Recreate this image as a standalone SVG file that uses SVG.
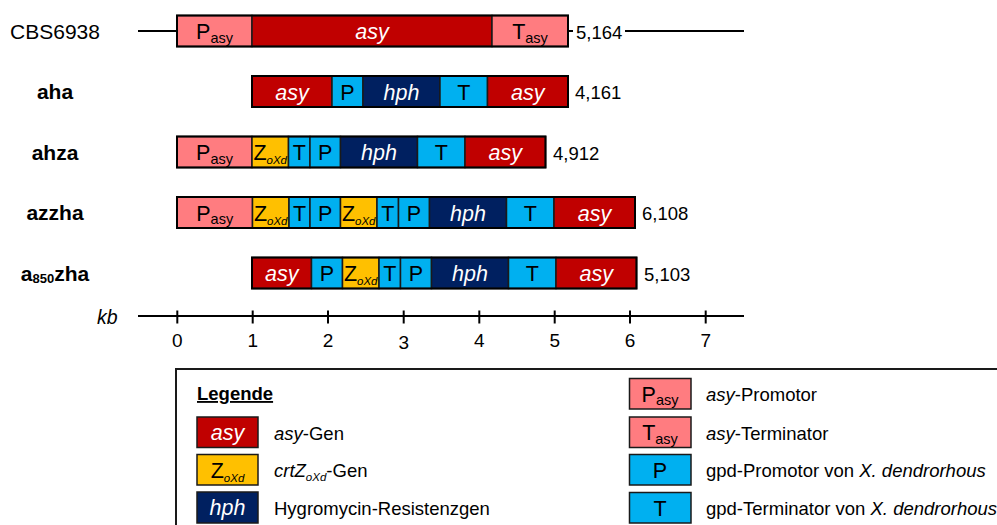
<svg xmlns="http://www.w3.org/2000/svg" width="997" height="525" viewBox="0 0 997 525">
  <style>
    text { font-family: "Liberation Sans", Arial, sans-serif; fill: #000; }
    .seg { stroke: #1a1a1a; stroke-width: 1.5; }
    .frame { fill: none; stroke: #000; stroke-width: 2; }
    .asy { fill: #C00000; }
    .prom { fill: #FF7C80; }
    .zox { fill: #FFC000; }
    .gpd { fill: #00B0F0; }
    .hph { fill: #002060; }
    .lbl { font-size: 21.5px; text-anchor: middle; }
    .wi { fill: #fff; font-style: italic; }
    .sub { font-size: 14.5px; }
    .zsub { font-size: 11.5px; font-style: italic; }
    .row { font-size: 21px; text-anchor: middle; font-weight: bold; }
    .len { font-size: 18.5px; }
    .tick { font-size: 19px; text-anchor: middle; }
    .leg { font-size: 18.5px; }
    .line { stroke: #000; stroke-width: 2; fill: none; }
  </style>

  <!-- flanking genomic lines and scale axis -->
  <g id="connectors">
    <line class="line" x1="138" y1="31" x2="177" y2="31"/>
    <line class="line" x1="568" y1="31" x2="573" y2="31"/>
    <line class="line" x1="625" y1="31" x2="744" y2="31"/>
    <line class="line" x1="138" y1="316" x2="744" y2="316"/>
    <g class="line">
      <line x1="177.3" y1="310.5" x2="177.3" y2="323.5"/>
      <line x1="252.7" y1="310.5" x2="252.7" y2="323.5"/>
      <line x1="328" y1="310.5" x2="328" y2="323.5"/>
      <line x1="403.7" y1="310.5" x2="403.7" y2="323.5"/>
      <line x1="479.3" y1="310.5" x2="479.3" y2="323.5"/>
      <line x1="554.7" y1="310.5" x2="554.7" y2="323.5"/>
      <line x1="630" y1="310.5" x2="630" y2="323.5"/>
      <line x1="705.7" y1="310.5" x2="705.7" y2="323.5"/>
    </g>
  </g>

  <g id="axis-labels">
    <text x="97" y="324" style="font-size:19.5px;font-style:italic">kb</text>
    <text class="tick" x="177.3" y="346.5">0</text>
    <text class="tick" x="252.7" y="346.5">1</text>
    <text class="tick" x="328" y="346.5">2</text>
    <text class="tick" x="403.7" y="348.5">3</text>
    <text class="tick" x="479.3" y="346.5">4</text>
    <text class="tick" x="554.7" y="346.5">5</text>
    <text class="tick" x="630" y="346.5">6</text>
    <text class="tick" x="705.7" y="346.5">7</text>
  </g>

  <!-- CBS6938 wild type locus -->
  <g id="row-cbs6938">
    <text x="55" y="38.5" style="font-size:21px;text-anchor:middle">CBS6938</text>
    <rect class="seg prom" x="177" y="15.5" width="75" height="31"/>
    <rect class="seg asy" x="252" y="15.5" width="240" height="31"/>
    <rect class="seg prom" x="492" y="15.5" width="76" height="31"/>
    <rect class="frame" x="177" y="15.5" width="391" height="31"/>
    <text class="lbl" x="214.5" y="39">P<tspan class="sub" dy="3.5">asy</tspan></text>
    <text class="lbl wi" x="372" y="39">asy</text>
    <text class="lbl" x="530" y="39">T<tspan class="sub" dy="3.5">asy</tspan></text>
    <text class="len" x="576" y="38.5">5,164</text>
  </g>

  <g id="row-aha">
    <text class="row" x="55" y="99">aha</text>
    <rect class="seg asy" x="252" y="76" width="80" height="31"/>
    <rect class="seg gpd" x="332" y="76" width="31" height="31"/>
    <rect class="seg hph" x="363" y="76" width="77" height="31"/>
    <rect class="seg gpd" x="440" y="76" width="47.5" height="31"/>
    <rect class="seg asy" x="487.5" y="76" width="80.5" height="31"/>
    <rect class="frame" x="252" y="76" width="316" height="31"/>
    <text class="lbl wi" x="292" y="99.5">asy</text>
    <text class="lbl" x="347.5" y="99.5">P</text>
    <text class="lbl wi" x="401.5" y="99.5">hph</text>
    <text class="lbl" x="463.7" y="99.5">T</text>
    <text class="lbl wi" x="527.7" y="99.5">asy</text>
    <text class="len" x="575" y="99">4,161</text>
  </g>

  <g id="row-ahza">
    <text class="row" x="55" y="159.5">ahza</text>
    <rect class="seg prom" x="177" y="136.5" width="75" height="31"/>
    <rect class="seg zox" x="252" y="136.5" width="36.5" height="31"/>
    <rect class="seg gpd" x="288.5" y="136.5" width="21.5" height="31"/>
    <rect class="seg gpd" x="310" y="136.5" width="30.5" height="31"/>
    <rect class="seg hph" x="340.5" y="136.5" width="77" height="31"/>
    <rect class="seg gpd" x="417.5" y="136.5" width="47.5" height="31"/>
    <rect class="seg asy" x="465" y="136.5" width="80.5" height="31"/>
    <rect class="frame" x="177" y="136.5" width="368.5" height="31"/>
    <text class="lbl" x="214.5" y="160">P<tspan class="sub" dy="3.5">asy</tspan></text>
    <text class="lbl" x="270.2" y="160">Z<tspan class="zsub" dy="4">oXd</tspan></text>
    <text class="lbl" x="299.2" y="160">T</text>
    <text class="lbl" x="325.2" y="160">P</text>
    <text class="lbl wi" x="379" y="160">hph</text>
    <text class="lbl" x="441.2" y="160">T</text>
    <text class="lbl wi" x="505.2" y="160">asy</text>
    <text class="len" x="553" y="159.5">4,912</text>
  </g>

  <g id="row-azzha">
    <text class="row" x="55" y="220">azzha</text>
    <rect class="seg prom" x="177" y="197" width="75.5" height="31"/>
    <rect class="seg zox" x="252.5" y="197" width="36.5" height="31"/>
    <rect class="seg gpd" x="289" y="197" width="21" height="31"/>
    <rect class="seg gpd" x="310" y="197" width="30.5" height="31"/>
    <rect class="seg zox" x="340.5" y="197" width="36.5" height="31"/>
    <rect class="seg gpd" x="377" y="197" width="21.5" height="31"/>
    <rect class="seg gpd" x="398.5" y="197" width="31" height="31"/>
    <rect class="seg hph" x="429.5" y="197" width="77" height="31"/>
    <rect class="seg gpd" x="506.5" y="197" width="47.5" height="31"/>
    <rect class="seg asy" x="554" y="197" width="81" height="31"/>
    <rect class="frame" x="177" y="197" width="458" height="31"/>
    <text class="lbl" x="214.7" y="220.5">P<tspan class="sub" dy="3.5">asy</tspan></text>
    <text class="lbl" x="270.7" y="220.5">Z<tspan class="zsub" dy="4">oXd</tspan></text>
    <text class="lbl" x="299.5" y="220.5">T</text>
    <text class="lbl" x="325.2" y="220.5">P</text>
    <text class="lbl" x="358.7" y="220.5">Z<tspan class="zsub" dy="4">oXd</tspan></text>
    <text class="lbl" x="387.7" y="220.5">T</text>
    <text class="lbl" x="414" y="220.5">P</text>
    <text class="lbl wi" x="468" y="220.5">hph</text>
    <text class="lbl" x="530.2" y="220.5">T</text>
    <text class="lbl wi" x="594.5" y="220.5">asy</text>
    <text class="len" x="642" y="220">6,108</text>
  </g>

  <g id="row-a850zha">
    <text class="row" x="55" y="280.5">a<tspan style="font-size:13px" dy="2.5">850</tspan><tspan dy="-2.5">zha</tspan></text>
    <rect class="seg asy" x="252" y="257.5" width="59.5" height="31"/>
    <rect class="seg gpd" x="311.5" y="257.5" width="31" height="31"/>
    <rect class="seg zox" x="342.5" y="257.5" width="36.5" height="31"/>
    <rect class="seg gpd" x="379" y="257.5" width="21.5" height="31"/>
    <rect class="seg gpd" x="400.5" y="257.5" width="31" height="31"/>
    <rect class="seg hph" x="431.5" y="257.5" width="77" height="31"/>
    <rect class="seg gpd" x="508.5" y="257.5" width="47.5" height="31"/>
    <rect class="seg asy" x="556" y="257.5" width="80.5" height="31"/>
    <rect class="frame" x="252" y="257.5" width="384.5" height="31"/>
    <text class="lbl wi" x="281.7" y="281">asy</text>
    <text class="lbl" x="327" y="281">P</text>
    <text class="lbl" x="360.7" y="281">Z<tspan class="zsub" dy="4">oXd</tspan></text>
    <text class="lbl" x="389.7" y="281">T</text>
    <text class="lbl" x="416" y="281">P</text>
    <text class="lbl wi" x="470" y="281">hph</text>
    <text class="lbl" x="532.2" y="281">T</text>
    <text class="lbl wi" x="596.2" y="281">asy</text>
    <text class="len" x="644" y="280.5">5,103</text>
  </g>

  <!-- legend -->
  <g id="legend">
    <rect x="176" y="369" width="900" height="200" fill="#fff" stroke="#1a1a1a" stroke-width="2"/>
    <text x="197" y="400" style="font-size:18.5px;font-weight:bold;text-decoration:underline">Legende</text>

    <rect class="seg asy" x="197" y="417" width="61" height="30.5"/>
    <text class="lbl wi" x="227.5" y="440">asy</text>
    <text class="leg" x="274" y="439.5"><tspan font-style="italic">asy</tspan>-Gen</text>

    <rect class="seg zox" x="197" y="454.5" width="61" height="30.5"/>
    <text class="lbl" x="227.5" y="477.5">Z<tspan class="zsub" dy="4">oXd</tspan></text>
    <text class="leg" x="274" y="477"><tspan font-style="italic">crtZ</tspan><tspan font-style="italic" style="font-size:11.5px" dy="4">oXd</tspan><tspan dy="-4">-Gen</tspan></text>

    <rect class="seg hph" x="197" y="492" width="61" height="31"/>
    <text class="lbl wi" x="227.5" y="515">hph</text>
    <text class="leg" x="274" y="514.5">Hygromycin-Resistenzgen</text>

    <rect class="seg prom" x="629.5" y="378.5" width="61.5" height="30.5"/>
    <text class="lbl" x="660" y="401.5">P<tspan class="sub" dy="3.5">asy</tspan></text>
    <text class="leg" x="706" y="401"><tspan font-style="italic">asy</tspan>-Promotor</text>

    <rect class="seg prom" x="629.5" y="417" width="61.5" height="30.5"/>
    <text class="lbl" x="660" y="440">T<tspan class="sub" dy="3.5">asy</tspan></text>
    <text class="leg" x="706" y="439.5"><tspan font-style="italic">asy</tspan>-Terminator</text>

    <rect class="seg gpd" x="629.5" y="454.5" width="61.5" height="30.5"/>
    <text class="lbl" x="660" y="477.5">P</text>
    <text class="leg" x="706" y="477">gpd-Promotor von <tspan font-style="italic">X. dendrorhous</tspan></text>

    <rect class="seg gpd" x="629.5" y="492.5" width="61.5" height="30.5"/>
    <text class="lbl" x="660" y="515.5">T</text>
    <text class="leg" x="706" y="515">gpd-Terminator von <tspan font-style="italic">X. dendrorhous</tspan></text>
  </g>
</svg>
